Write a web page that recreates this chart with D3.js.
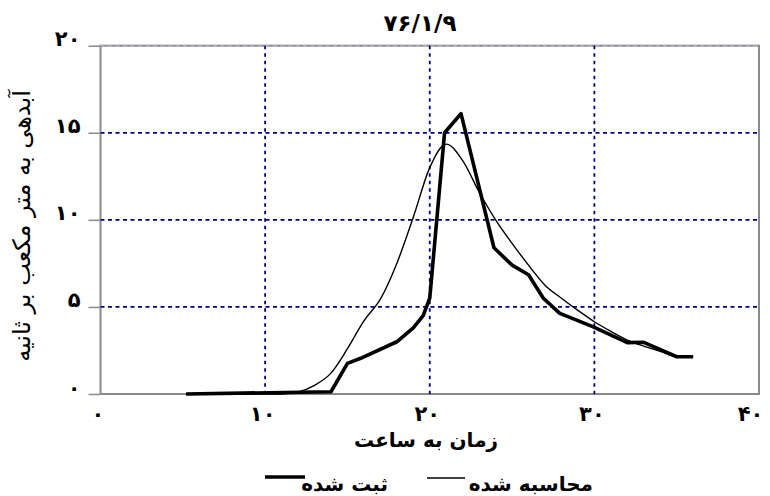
<!DOCTYPE html>
<html>
<head>
<meta charset="utf-8">
<script src="https://cdn.jsdelivr.net/npm/d3@7"></script>
<style>
  body { margin: 0; background: #fff; }
  svg { display: block; }
  text { font-family: "DejaVu Sans", sans-serif; fill: #000; }
</style>
</head>
<body>
<div id="chart"></div>
<script>
// Chart title and axis captions
var chartTitle = "۷۶/۱/۹";
var xTitle = "زمان به ساعت";
var yTitle = "آبدهی به متر مکعب بر ثانیه";
var legendNames = ["محاسبه شده", "ثبت شده"];

// Tick values
var xTicks = [0, 10, 20, 30, 40];
var yTicks = [0, 5, 10, 15, 20];

// Observed hydrograph (ثبت شده)
var obsTime = [5.2, 14, 15, 15.8, 18, 19, 19.6, 20, 20.9, 21.9, 23.9, 25, 26, 26.9, 27.9, 29.9, 32, 33, 35, 36];
var obsFlow = [0, 0.13, 1.76, 2.05, 3.0, 3.8, 4.5, 5.5, 15.0, 16.1, 8.4, 7.4, 6.85, 5.5, 4.63, 3.87, 2.95, 2.97, 2.14, 2.14];

// Calculated hydrograph (محاسبه شده)
var calcTime = [5.2, 11, 12, 13, 14, 15, 16, 17, 18, 19, 20, 21, 22, 23, 24, 25, 26, 27, 28, 29, 30, 31, 32, 33, 34, 35, 36];
var calcFlow = [0, 0, 0.12, 0.5, 1.2, 2.6, 4.2, 5.45, 7.5, 10.15, 13.0, 14.35, 13.4, 11.6, 10.0, 8.65, 7.4, 6.25, 5.5, 4.8, 4.15, 3.6, 3.1, 2.75, 2.45, 2.15, 2.15];

// Persian digits for the labels
function fa(n){
    return String(n).replace(/\d/g, function(c){ return "۰۱۲۳۴۵۶۷۸۹"[c]; });
}

var width = 770, height = 496;
var plotLeft = 100.5, plotRight = 759, plotTop = 45.7, plotBottom = 394;

var svg = d3.select("#chart").append("svg")
    .attr("width", width)
    .attr("height", height);

var x = d3.scaleLinear().domain([0, 40]).range([plotLeft, plotRight]);
var y = d3.scaleLinear().domain([0, 20]).range([plotBottom, plotTop]);

// Frame
svg.append("rect")
    .attr("x", plotLeft).attr("y", plotTop)
    .attr("width", plotRight - plotLeft).attr("height", plotBottom - plotTop)
    .attr("fill", "none")
    .attr("stroke", "#8a8a8a")
    .attr("stroke-width", 2);

// Dotted grid lines
svg.append("g").selectAll("line")
    .data(xTicks.slice(1, -1))
    .join("line")
    .attr("x1", d => x(d)).attr("x2", d => x(d))
    .attr("y1", plotTop).attr("y2", plotBottom)
    .attr("stroke", "#000080")
    .attr("stroke-width", 1.8)
    .attr("stroke-dasharray", "3.5,4");

svg.append("g").selectAll("line")
    .data(yTicks.slice(1))
    .join("line")
    .attr("x1", plotLeft).attr("x2", plotRight)
    .attr("y1", d => y(d)).attr("y2", d => y(d))
    .attr("stroke", d => d == 20 ? "#b0b0c8" : "#000080")
    .attr("stroke-width", 1.8)
    .attr("stroke-dasharray", "4,3.5");

// Y axis with Persian labels
var yAxis = svg.append("g")
    .attr("transform", `translate(${plotLeft},0)`)
    .call(d3.axisLeft(y).tickValues(yTicks).tickSize(12).tickPadding(8).tickFormat(fa));
yAxis.select(".domain").remove();
yAxis.selectAll(".tick line").attr("stroke", "#8a8a8a").attr("stroke-width", 1.5);
yAxis.selectAll(".tick text")
    .attr("dy", "0")
    .style("font-size", "21px")
    .style("font-weight", "bold");

// X axis with Persian labels
var xAxis = svg.append("g")
    .attr("transform", `translate(0,${plotBottom})`)
    .call(d3.axisBottom(x).tickValues(xTicks).tickSize(0).tickPadding(12).tickFormat(fa));
xAxis.select(".domain").remove();
xAxis.selectAll(".tick text")
    .attr("dx", d => d == 40 ? -9 : -3)
    .style("font-size", "21px")
    .style("font-weight", "bold");

// Lines
var line = d3.line()
    .x(d => x(d[0]))
    .y(d => y(d[1]));

var calcData = calcTime.map((t, i) => [t, calcFlow[i]]);
var obsData = obsTime.map((t, i) => [t, obsFlow[i]]);

svg.append("path")
    .datum(calcData)
    .attr("d", line.curve(d3.curveMonotoneX))
    .attr("fill", "none")
    .attr("stroke", "#000")
    .attr("stroke-width", 1.4);

svg.append("path")
    .datum(obsData)
    .attr("d", line.curve(d3.curveLinear))
    .attr("fill", "none")
    .attr("stroke", "#000")
    .attr("stroke-width", 3.6)
    .attr("stroke-linejoin", "round");

// Title
svg.append("text")
    .attr("x", 420).attr("y", 31)
    .attr("text-anchor", "middle")
    .style("font-size", "23px")
    .style("font-weight", "bold")
    .text(chartTitle);

// Axis titles
svg.append("text")
    .attr("x", 426).attr("y", 447)
    .attr("text-anchor", "middle")
    .style("font-size", "20px")
    .style("font-weight", "bold")
    .text(xTitle);

svg.append("text")
    .attr("transform", "translate(30,226) rotate(-90)")
    .attr("text-anchor", "middle")
    .style("font-size", "24px")
    .text(yTitle);

// Legend: thin calculated, thick observed
var legend = svg.append("g");
legend.append("line")
    .attr("x1", 427).attr("x2", 465).attr("y1", 478).attr("y2", 478)
    .attr("stroke", "#000").attr("stroke-width", 1.4);
legend.append("text")
    .attr("x", 593).attr("y", 491)
    .attr("text-anchor", "end")
    .style("font-size", "20px")
    .style("font-weight", "bold")
    .text(legendNames[0]);
legend.append("line")
    .attr("x1", 265).attr("x2", 305).attr("y1", 477).attr("y2", 477)
    .attr("stroke", "#000").attr("stroke-width", 3.6);
legend.append("text")
    .attr("x", 388).attr("y", 491)
    .attr("text-anchor", "end")
    .style("font-size", "20px")
    .style("font-weight", "bold")
    .text(legendNames[1]);
</script>
</body>
</html>
